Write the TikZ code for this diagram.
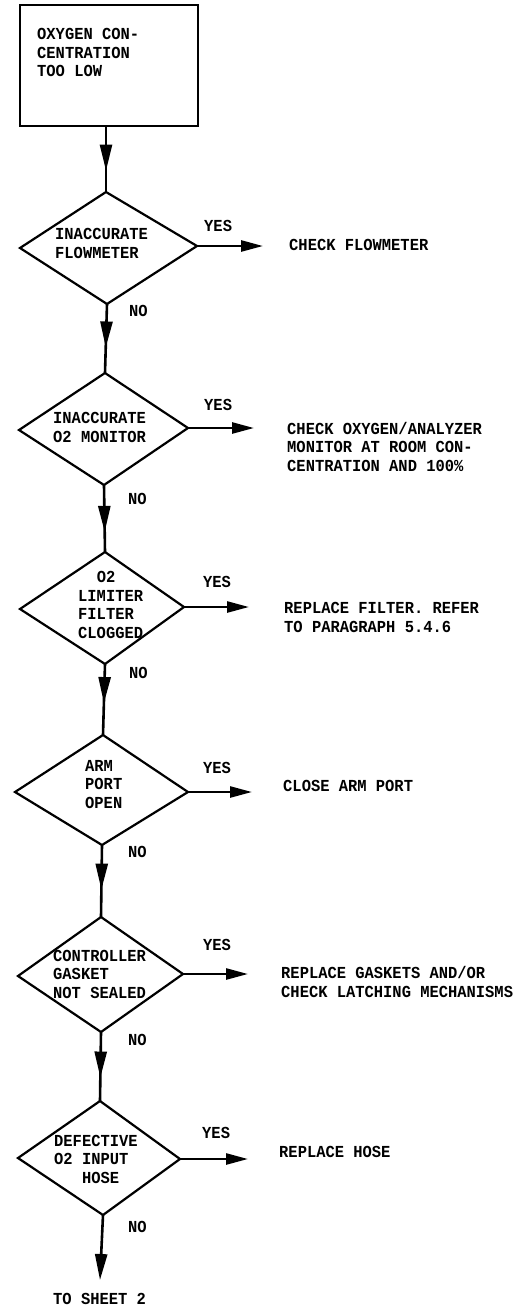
\documentclass[tikz,border=0pt]{standalone}
\usepackage{fontspec}
\newfontfamily\tw{Liberation Mono}[FakeStretch=0.92]
\usetikzlibrary{arrows.meta,decorations.markings}
\begin{document}
\begin{tikzpicture}[x=1pt,y=-1pt,
  txt/.style={font=\tw\bfseries\fontsize{16.8pt}{18.5pt}\selectfont, inner sep=0pt, align=left, anchor=base west},
  dia/.style={line width=2.2pt, line join=miter},
  flow/.style={line width=2.6pt},
  tip/.style={-{Triangle[length=22pt,width=11pt]}},
  midtip/.style={postaction={decorate},decoration={markings,mark=at position #1 with {\arrow{Triangle[length=26pt,width=12pt]}}}}
]
\useasboundingbox (0,0) rectangle (514,1308);

% start box
\node[draw, line width=2.8pt, minimum width=178pt, minimum height=121pt, inner sep=0pt] (box) at (109,65.5) {};
\node[txt] (boxt) at (37,77) {OXYGEN CON-\\CENTRATION\\TOO LOW};

% diamond vertices
\coordinate (d1t) at (106,192); \coordinate (d1l) at (20,248); \coordinate (d1r) at (197,246); \coordinate (d1b) at (107,304);
\coordinate (d2t) at (105,373); \coordinate (d2l) at (19,430); \coordinate (d2r) at (188,428); \coordinate (d2b) at (104,485);
\coordinate (d3t) at (105,552); \coordinate (d3l) at (20,609); \coordinate (d3r) at (184,607); \coordinate (d3b) at (105,664);
\coordinate (d4t) at (103,735); \coordinate (d4l) at (15,792); \coordinate (d4r) at (188,792); \coordinate (d4b) at (102,845);
\coordinate (d5t) at (101,917); \coordinate (d5l) at (18,976); \coordinate (d5r) at (183,974); \coordinate (d5b) at (101,1032);
\coordinate (d6t) at (100,1101); \coordinate (d6l) at (18,1158); \coordinate (d6r) at (180,1159); \coordinate (d6b) at (103,1215);

\foreach \i in {1,...,6}{
  \draw[dia] (d\i t) -- (d\i r) -- (d\i b) -- (d\i l) -- cycle;
}

% question texts (anchor = baseline of last line)
\node[txt] (q1) at (55,258) {INACCURATE\\FLOWMETER};
\node[txt] (q2) at (53,442) {INACCURATE\\O2 MONITOR};
\node[txt] (q3) at (78,638) {\phantom{LI}O2\\LIMITER\\FILTER\\CLOGGED};
\node[txt] (q4) at (85,808) {ARM\\PORT\\OPEN};
\node[txt] (q5) at (53,998) {CONTROLLER\\GASKET\\NOT SEALED};
\node[txt] (q6) at (54,1183) {DEFECTIVE\\O2 INPUT\\\phantom{DEF}HOSE};

% vertical flow
\coordinate (bs) at (box.south -| d1t);
\draw[flow, midtip=0.67] (bs) -- (d1t);
\draw[flow, midtip=0.63] (d1b) -- (d2t);
\draw[flow, midtip=0.70] (d2b) -- (d3t);
\draw[flow, midtip=0.55] (d3b) -- (d4t);
\draw[flow, midtip=0.62] (d4b) -- (d5t);
\draw[flow, midtip=0.66] (d5b) -- (d6t);
\coordinate (fin) at (100,1280);
\draw[flow, -{Triangle[length=26pt,width=12pt]}] (d6b) -- (fin);
\node[txt] (sheet) at (53,1304) {TO SHEET 2};

% NO labels
\node[txt] (n1) at (129,316) {NO};
\node[txt] (n2) at (128,504) {NO};
\node[txt] (n3) at (129,678) {NO};
\node[txt] (n4) at (128,857) {NO};
\node[txt] (n5) at (128,1045) {NO};
\node[txt] (n6) at (128,1232) {NO};

% YES labels
\node[txt] (y1) at (204,231) {YES};
\node[txt] (y2) at (204,410) {YES};
\node[txt] (y3) at (203,587) {YES};
\node[txt] (y4) at (203,773) {YES};
\node[txt] (y5) at (203,950) {YES};
\node[txt] (y6) at (202,1138) {YES};

% YES arrows
\coordinate (e1) at (263,246);
\coordinate (e2) at (254,428);
\coordinate (e3) at (249,607);
\coordinate (e4) at (252,792);
\coordinate (e5) at (248,974);
\coordinate (e6) at (248,1159);
\draw[flow, tip] (d1r) -- (e1);
\draw[flow, tip] (d2r) -- (e2);
\draw[flow, tip] (d3r) -- (e3);
\draw[flow, tip] (d4r) -- (e4);
\draw[flow, tip] (d5r) -- (e5);
\draw[flow, tip] (d6r) -- (e6);

% actions (anchor = baseline of last line)
\node[txt] (r1) at (289,250) {CHECK FLOWMETER};
\node[txt] (r2) at (287,471) {CHECK OXYGEN/ANALYZER\\MONITOR AT ROOM CON-\\CENTRATION AND 100\%};
\node[txt] (r3) at (284,632) {REPLACE FILTER. REFER\\TO PARAGRAPH 5.4.6};
\node[txt] (r4) at (283,791) {CLOSE ARM PORT};
\node[txt] (r5) at (281,997) {REPLACE GASKETS AND/OR\\CHECK LATCHING MECHANISMS};
\node[txt] (r6) at (279,1157) {REPLACE HOSE};
\end{tikzpicture}
\end{document}
